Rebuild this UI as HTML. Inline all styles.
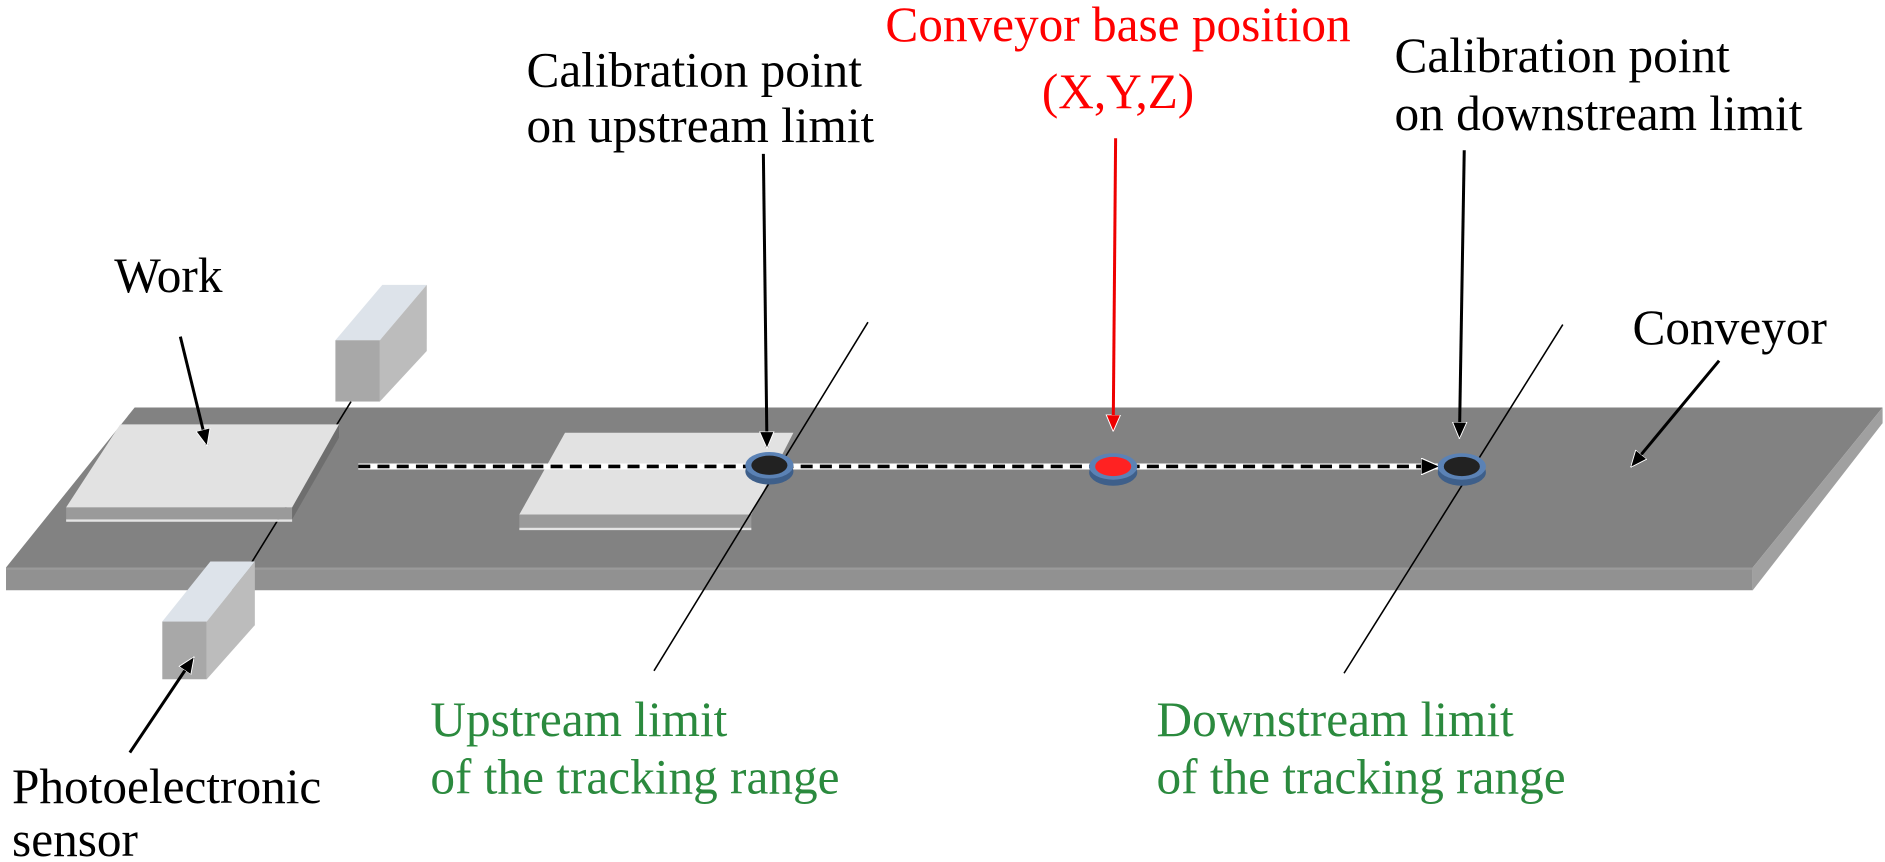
<!DOCTYPE html>
<html><head><meta charset="utf-8"><style>
html,body{margin:0;padding:0;background:#fff;}
svg{display:block;}
text{font-family:"Liberation Serif",serif;font-size:41px;}
</style></head><body>
<svg width="1885" height="862" viewBox="0 0 1568 717" preserveAspectRatio="none" xmlns="http://www.w3.org/2000/svg">
<defs>
<marker id="ah" markerWidth="14" markerHeight="14" refX="13" refY="7" orient="auto" markerUnits="userSpaceOnUse"><path d="M0,1 L14,7 L0,13 z" fill="#000" stroke="#fff" stroke-width="0.8"/></marker>
<marker id="ahr" markerWidth="14" markerHeight="14" refX="13" refY="7" orient="auto" markerUnits="userSpaceOnUse"><path d="M0,1 L14,7 L0,13 z" fill="#e00" stroke="#fff" stroke-width="0.8"/></marker>
<marker id="ahb" markerWidth="16" markerHeight="14" refX="14" refY="7" orient="auto" markerUnits="userSpaceOnUse"><path d="M0,0 L16,7 L0,14 z" fill="#000" stroke="#fff" stroke-width="1"/></marker>
</defs>
<polygon points="112,339 1566,339 1458,472 5,472" fill="#828282"/>
<polygon points="5,472 1458,472 1458,491 5,491" fill="#919191"/>
<line x1="5" y1="473" x2="1458" y2="473" stroke="#9a9a9a" stroke-width="2"/>
<polygon points="1458,472 1566,339 1566,352 1458,491" fill="#a0a0a0"/>
<line x1="292" y1="334" x2="208" y2="470" stroke="#000" stroke-width="1.3"/>
<polygon points="279,283 316,283 355,237 318,237" fill="#dde3ea"/>
<polygon points="316,283 355,237 355,292 316,334" fill="#bcbcbc"/>
<rect x="279" y="283" width="37" height="51" fill="#a8a8a8"/>
<polygon points="55,422 243,422 243,432 55,432" fill="#9a9a9a"/>
<line x1="55" y1="433" x2="243" y2="433" stroke="#e4e4e4" stroke-width="2"/>
<polygon points="243,422 282,353 282,364 243,432" fill="#6e6e6e"/>
<polygon points="100,353 282,353 243,422 55,422" fill="#e2e2e2"/>
<polygon points="432,428 625,428 625,439 432,439" fill="#9a9a9a"/>
<line x1="432" y1="440" x2="625" y2="440" stroke="#e4e4e4" stroke-width="2"/>
<polygon points="470,360 660,360 625,428 432,428" fill="#e2e2e2"/>
<polygon points="135,517 172,517 212,467 175,467" fill="#dde3ea"/>
<polygon points="172,517 212,467 212,520 172,565" fill="#bcbcbc"/>
<rect x="135" y="517" width="37" height="48" fill="#a8a8a8"/>
<line x1="722" y1="268" x2="544" y2="558" stroke="#000" stroke-width="1.3"/>
<line x1="1300" y1="270" x2="1118" y2="560" stroke="#000" stroke-width="1.3"/>
<line x1="298" y1="388" x2="1196" y2="388" stroke="#fff" stroke-width="5"/>
<line x1="298" y1="388" x2="1196" y2="388" stroke="#000" stroke-width="3" stroke-dasharray="10,6" marker-end="url(#ahb)"/>
<g>
<ellipse cx="640" cy="392" rx="20" ry="11" fill="#3e5f8a"/>
<ellipse cx="640" cy="387" rx="20" ry="11" fill="#5b82b5"/>
<ellipse cx="640" cy="387" rx="15" ry="8" fill="#222"/>
<ellipse cx="926" cy="393" rx="20" ry="11" fill="#3e5f8a"/>
<ellipse cx="926" cy="388" rx="20" ry="11" fill="#5b82b5"/>
<ellipse cx="926" cy="388" rx="15" ry="8" fill="#f22"/>
<ellipse cx="1216" cy="393" rx="20" ry="11" fill="#3e5f8a"/>
<ellipse cx="1216" cy="388" rx="20" ry="11" fill="#5b82b5"/>
<ellipse cx="1216" cy="388" rx="15" ry="8" fill="#222"/>
</g>
<line x1="150" y1="280" x2="172" y2="370" stroke="#000" stroke-width="2.5" marker-end="url(#ah)"/>
<line x1="635" y1="128" x2="638" y2="372" stroke="#000" stroke-width="2.5" marker-end="url(#ah)"/>
<line x1="928" y1="115" x2="926" y2="358" stroke="#e00" stroke-width="2.5" marker-end="url(#ahr)"/>
<line x1="1218" y1="125" x2="1214" y2="364" stroke="#000" stroke-width="2.5" marker-end="url(#ah)"/>
<line x1="1430" y1="300" x2="1357" y2="388" stroke="#000" stroke-width="2.5" marker-end="url(#ah)"/>
<line x1="108" y1="626" x2="161" y2="547" stroke="#000" stroke-width="2.5" marker-end="url(#ah)"/>
<text x="438" y="72">Calibration point</text>
<text x="438" y="118">on upstream limit</text>
<text x="930" y="34" fill="#f00" text-anchor="middle">Conveyor base position</text>
<text x="930" y="90" fill="#f00" text-anchor="middle">(X,Y,Z)</text>
<text x="1160" y="60">Calibration point</text>
<text x="1160" y="108">on downstream limit</text>
<text x="95" y="243">Work</text>
<text x="1358" y="286">Conveyor</text>
<text x="10" y="668">Photoelectronic</text>
<text x="10" y="712">sensor</text>
<text x="358" y="612" fill="#2b8a3e">Upstream limit</text>
<text x="358" y="660" fill="#2b8a3e">of the tracking range</text>
<text x="962" y="612" fill="#2b8a3e">Downstream limit</text>
<text x="962" y="660" fill="#2b8a3e">of the tracking range</text>
</svg>
</body></html>
